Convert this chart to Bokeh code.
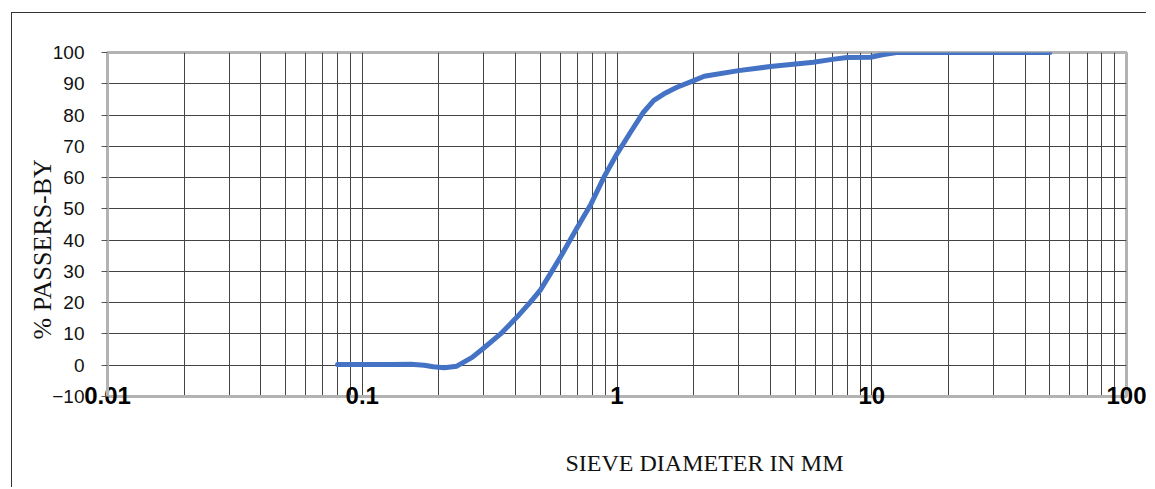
from bokeh.plotting import figure
from bokeh.models import Range1d, FixedTicker, Title
from bokeh.embed import file_html
from bokeh.resources import INLINE

# Data (sieve size in mm, % passing)
sieve_mm = [0.08, 0.10, 0.13, 0.155, 0.175, 0.19, 0.21, 0.235, 0.27, 0.30, 0.35, 0.405,
            0.457, 0.50, 0.548, 0.60, 0.648, 0.70, 0.79, 0.887, 1.0, 1.13, 1.27, 1.395,
            1.53, 1.72, 2.0, 2.2, 3.0, 4.0, 5.9, 7.0, 8.0, 9.9, 11.0, 12.5, 20.0, 50.0]
passing = [0.2, 0.2, 0.2, 0.3, 0.0, -0.5, -0.8, -0.3, 2.5, 5.5, 10.1, 15.4,
           20.2, 24.0, 29.3, 34.6, 39.4, 44.2, 51.5, 60.0, 67.6, 74.5, 80.9, 84.7,
           86.8, 88.9, 91.0, 92.4, 94.2, 95.5, 96.9, 97.8, 98.4, 98.5, 99.3, 100.0, 100.0, 100.0]

x_label_ticks = [0.01, 0.1, 1, 10, 100]
x_label_texts = ["0.01", "0.1", "1", "10", "100"]
y_ticks = [-10, 0, 10, 20, 30, 40, 50, 60, 70, 80, 90, 100]
grid_x = [m * 10.0 ** e for e in (-2, -1, 0, 1) for m in range(1, 10)] + [100.0]

p = figure(x_axis_type="log", x_range=Range1d(0.01, 100), y_range=Range1d(-10, 100),
           width=1135, height=475, output_backend="svg", toolbar_location=None,
           min_border_left=95, min_border_right=21, min_border_top=39, min_border_bottom=92)
p.styles = {"border-left": "1.5px solid #333333", "border-top": "1.5px solid #333333",
            "margin-left": "11px", "margin-top": "12px"}

p.outline_line_color = "#b3b3b3"
p.outline_line_width = 3

# x axis
p.xaxis.ticker = FixedTicker(ticks=x_label_ticks)
p.xaxis.major_label_overrides = {t: s for t, s in zip(x_label_ticks, x_label_texts)}
p.xaxis.major_label_text_font = "Liberation Sans"
p.xaxis.major_label_text_font_style = "bold"
p.xaxis.major_label_text_font_size = "24px"
p.xaxis.major_label_text_color = "#000000"
p.xaxis.major_label_standoff = -10
p.xaxis.major_tick_out = 0
p.xaxis.major_tick_in = 0
p.xaxis.minor_tick_line_color = None
p.xaxis.axis_line_color = "#b3b3b3"
p.xaxis.axis_line_width = 3

# y axis
p.yaxis.ticker = FixedTicker(ticks=y_ticks)
p.yaxis.major_label_text_font = "Liberation Sans"
p.yaxis.major_label_text_font_size = "19px"
p.yaxis.major_label_text_color = "#111111"
p.yaxis.major_label_standoff = 17
p.yaxis.major_tick_out = 6
p.yaxis.major_tick_in = 0
p.yaxis.major_tick_line_color = "#555555"
p.yaxis.minor_tick_line_color = None
p.yaxis.axis_line_color = "#b3b3b3"
p.yaxis.axis_line_width = 3

# grids
p.xgrid.ticker = FixedTicker(ticks=grid_x)
p.xgrid.grid_line_color = "#444444"
p.xgrid.grid_line_width = 1
p.ygrid.ticker = FixedTicker(ticks=y_ticks)
p.ygrid.grid_line_color = "#444444"
p.ygrid.grid_line_width = 1

p.line(sieve_mm, passing, line_color="#4472C4", line_width=5, line_join="round", line_cap="round")

# spacer between the axis and the x title
p.add_layout(Title(text=" ", standoff=38, text_font_size="1px"), "below")
p.add_layout(Title(text="SIEVE DIAMETER IN MM", align="left", offset=458, standoff=0,
                   text_font="Liberation Serif", text_font_style="normal",
                   text_font_size="24px", text_color="#111111"), "below")
p.add_layout(Title(text="% PASSERS-BY", align="left", offset=57, standoff=-14,
                   text_font="Liberation Serif", text_font_style="normal",
                   text_font_size="26px", text_color="#111111"), "left")

open("out.html", "w").write(file_html(p, INLINE))
